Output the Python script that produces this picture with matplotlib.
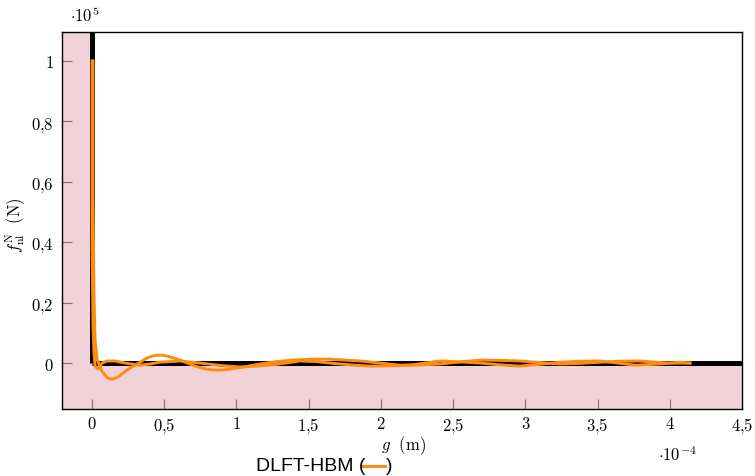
import matplotlib
matplotlib.use("Agg")
import matplotlib.pyplot as plt
from matplotlib.lines import Line2D
import numpy as np

plt.rcParams['mathtext.fontset'] = 'cm'
plt.rcParams['font.family'] = 'DejaVu Serif'

# Data (g in 1e-4 m, f in 1e5 N)
g_branch1 = [0.0069, 0.0069, 0.0139, 0.0208, 0.0346, 0.055, 0.07, 0.09, 0.105, 0.125, 0.15, 0.18,
             0.21, 0.242, 0.312, 0.381, 0.415, 0.45, 0.485, 0.52, 0.565, 0.61, 0.66, 0.713, 0.775,
             0.838, 0.9, 0.956, 1.06, 1.163, 1.28, 1.39, 1.52, 1.648, 1.75, 1.856, 2.0, 2.133,
             2.27, 2.41, 2.55, 2.69, 2.83, 2.96, 3.1, 3.24, 3.38, 3.52, 3.65, 3.79, 3.9, 4.0, 4.14]
f_branch1 = [1.0, 0.543, 0.212, 0.079, 0.013, -0.013, -0.028, -0.040, -0.048, -0.053, -0.052, -0.046,
             -0.035, -0.023, -0.003, 0.017, 0.023, 0.026, 0.026, 0.023, 0.017, 0.010, 0.0, -0.010, -0.018,
             -0.023, -0.023, -0.020, -0.012, -0.003, 0.005, 0.010, 0.013, 0.013, 0.010, 0.007, 0.0, -0.007,
             -0.006, -0.003, 0.004, 0.010, 0.009, 0.007, 0.002, -0.003, -0.001, 0.003, 0.006, 0.007, 0.003, 0.0, 0.0]
g_branch2 = [0.0, 0.0, 0.007, 0.014, 0.021, 0.042, 0.069, 0.104, 0.16, 0.23, 0.33, 0.40, 0.47, 0.61,
             0.75, 0.89, 1.025, 1.23, 1.34, 1.44, 1.55, 1.648, 1.79, 1.925, 2.06, 2.2, 2.3, 2.41, 2.55,
             2.69, 2.83, 2.96, 3.1, 3.24, 3.38, 3.52, 3.64, 3.76, 3.93, 4.07, 4.14]
f_branch2 = [1.0, 0.377, 0.113, 0.030, -0.010, -0.020, 0.0, 0.007, 0.007, 0.0, -0.007, -0.003, 0.003, 0.007,
             0.0, -0.008, -0.013, -0.007, 0.0, 0.007, 0.005, 0.0, -0.006, -0.010, -0.009, -0.007, 0.0, 0.007,
             0.004, 0.0, -0.006, -0.010, -0.004, 0.003, 0.006, 0.007, 0.0, -0.007, -0.003, 0.003, 0.0]

x_ticks = [0, 0.5, 1, 1.5, 2, 2.5, 3, 3.5, 4, 4.5]
y_ticks = [0, 0.2, 0.4, 0.6, 0.8, 1.0]
xlim = (-0.208, 4.5)
ylim = (-0.152, 1.096)

def fmt(v):
    s = ('%g' % v).replace('.', '{,}')
    return '$' + s + '$'

fig = plt.figure(figsize=(7.55, 4.77), dpi=100)
ax = fig.add_axes([62/755, 67/477, 680/755, 377/477])
ax.set_xlim(*xlim)
ax.set_ylim(*ylim)

pink = '#f1d2d8'
ax.axvspan(xlim[0], 0, color=pink, lw=0, zorder=0)
ax.axhspan(ylim[0], 0, color=pink, lw=0, zorder=0)

# rigid contact law
ax.plot([0, 0], [0, ylim[1]], color='black', lw=3.6, zorder=2, solid_capstyle='butt')
ax.plot([0, xlim[1]], [0, 0], color='black', lw=3.6, zorder=2, solid_capstyle='butt')

# orange HBM loop
orange = '#ff8c0f'
ax.plot(g_branch1, f_branch1, color=orange, lw=2.1, zorder=3, solid_joinstyle='round')
ax.plot(g_branch2, f_branch2, color=orange, lw=2.1, zorder=3, solid_joinstyle='round')

ax.set_xticks(x_ticks)
ax.set_xticklabels([fmt(v) for v in x_ticks])
ax.set_yticks(y_ticks)
ax.set_yticklabels([fmt(v) for v in y_ticks])
ax.tick_params(direction='in', length=7, width=0.8, color='#8c6a70', labelsize=12)
ax.tick_params(axis='x', pad=4)
ax.tick_params(axis='y', pad=6)
for s in ax.spines.values():
    s.set_linewidth(1.0)

ax.set_xlabel(r'$g\ \ \mathrm{(m)}$', fontsize=12)
ax.xaxis.set_label_coords((403 - 62) / 680, (410 - 446) / 377)
ax.xaxis.label.set_va('center')
ax.set_ylabel(r'$f_{\mathrm{nl}}^{\mathrm{N}}\ \ \mathrm{(N)}$', fontsize=12)
ax.yaxis.set_label_coords((16 - 62) / 680, (410 - 225) / 377)
ax.yaxis.label.set_va('center')

fig.text(70/755, 1 - 16/477, r'$\cdot 10^{5}$', fontsize=12, ha='left', va='center')
fig.text(658/755, 1 - 456/477, r'$\cdot 10^{-4}$', fontsize=12, ha='left', va='center')

ly = 1 - 467/477
fig.text(256/755, ly, 'DLFT-HBM (', fontsize=14, family='Liberation Sans', ha='left', va='center')
fig.add_artist(Line2D([363/755, 385/755], [ly, ly], color=orange, lw=2.2,
                      transform=fig.transFigure))
fig.text(386/755, ly, ')', fontsize=14, family='Liberation Sans', ha='left', va='center')

fig.savefig('out.png', dpi=100)
